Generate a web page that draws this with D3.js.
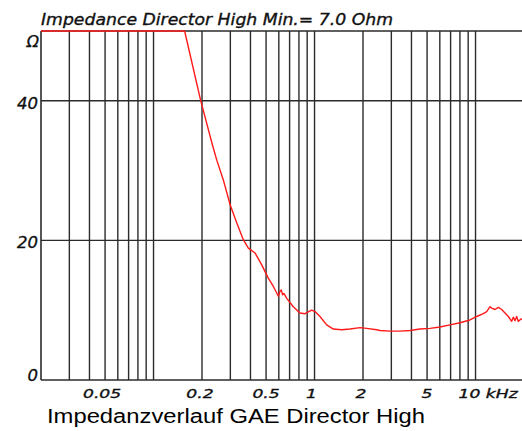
<!DOCTYPE html>
<html>
<head>
<meta charset="utf-8">
<script src="https://cdn.jsdelivr.net/npm/d3@7"></script>
<style>
  html, body { margin: 0; padding: 0; background: #fff; }
  svg { display: block; }
</style>
</head>
<body>
<svg id="chart" width="522" height="431"></svg>
<script>
// Impedance magnitude (Ohm) against frequency (Hz)
const freqHz = [
  20, 156, 196, 232, 247, 271, 299, 329, 361, 388, 427, 470, 516, 555, 596, 610, 622, 634, 646,
  672, 738, 812, 873, 960, 1007, 1081, 1190, 1308, 1475, 1661, 1916, 2108, 2432, 2551, 2944,
  3394, 3918, 4520, 5216, 6017, 6942, 8009, 9238, 10170, 11180, 11730, 12300, 12600, 13210,
  13850, 14540, 15240, 15980, 16770, 17160, 17580, 18020, 18430, 19080, 20000
];
const impedanceOhm = [
  50, 50, 40.1, 33.7, 31.5, 28.7, 25.1, 22.5, 20.1, 18.9, 18.2, 16.5, 14.6, 13.4, 12.0, 12.7, 12.9, 12.2, 12.4,
  11.7, 10.5, 9.6, 9.5, 10.0, 9.8, 9.1, 7.9, 7.3, 7.2, 7.3, 7.5, 7.4, 7.2, 7.1, 7.0,
  7.0, 7.1, 7.3, 7.4, 7.6, 7.9, 8.2, 8.6, 9.1, 9.5, 9.8, 10.5, 10.3, 10.1,
  10.4, 10.1, 9.6, 9.1, 8.4, 9.0, 8.5, 9.1, 8.4, 8.7, 8.8
];

// Grid: 1-2-...-9 per decade, plus horizontal lines
const gridFreqHz = [30, 40, 50, 60, 70, 80, 90, 100, 200, 300, 400, 500, 600, 700, 800, 900,
                    1000, 2000, 3000, 4000, 5000, 6000, 7000, 8000, 9000, 10000];
const gridOhm = [20, 40, 50];

// Axis labels
const xTickHz = [50, 200, 500, 1000, 2000, 5000, 10000];
const xTickLabels = ["0.05", "0.2", "0.5", "1", "2", "5", "10 kHz"];
const yTickOhm = [0, 20, 40];
const yTickLabels = ["0", "20", "40"];

const titleText = "Impedance Director High Min.= 7.0 Ohm";
const captionText = "Impedanzverlauf GAE Director High";

const svg = d3.select("#chart");

const x = d3.scaleLog().domain([20, 20000]).range([41, 524]);
const y = d3.scaleLinear().domain([0, 50]).range([380, 31]);

const plotRight = 522;
const gridColor = "#2b2b2b";
const tickFont = "'DejaVu Sans', Verdana, sans-serif";
const inkColor = "#111";

svg.append("defs").append("clipPath").attr("id", "plot-clip")
  .append("rect")
  .attr("x", x.range()[0]).attr("y", y(50) - 1)
  .attr("width", x.range()[1] - x.range()[0])
  .attr("height", y(0) - y(50) + 1);

// vertical grid lines
svg.append("g").selectAll("line").data(gridFreqHz).join("line")
  .attr("x1", d => x(d)).attr("x2", d => x(d))
  .attr("y1", y(50)).attr("y2", y(0))
  .attr("stroke", gridColor).attr("stroke-width", 1.4);

// horizontal grid lines
svg.append("g").selectAll("line").data(gridOhm).join("line")
  .attr("x1", x(20)).attr("x2", plotRight)
  .attr("y1", d => y(d)).attr("y2", d => y(d))
  .attr("stroke", gridColor).attr("stroke-width", 1.4);

// axes frame (left and bottom)
svg.append("line")
  .attr("x1", x(20)).attr("x2", x(20)).attr("y1", y(50)).attr("y2", y(0))
  .attr("stroke", gridColor).attr("stroke-width", 1.6);
svg.append("line")
  .attr("x1", x(20)).attr("x2", plotRight).attr("y1", y(0)).attr("y2", y(0))
  .attr("stroke", gridColor).attr("stroke-width", 1.6);

// impedance curve
const line = d3.line()
  .x((d, i) => x(freqHz[i]))
  .y(d => y(d));
svg.append("path")
  .attr("clip-path", "url(#plot-clip)")
  .attr("d", line(impedanceOhm))
  .attr("fill", "none")
  .attr("stroke", "#ff1a1a")
  .attr("stroke-width", 1.4)
  .attr("stroke-linejoin", "round");

// shared look for the plotter-style italic labels
function plotterText(sel, size) {
  return sel
    .attr("font-family", tickFont)
    .attr("font-style", "italic")
    .attr("font-size", size)
    .attr("fill", inkColor)
    .attr("stroke", inkColor)
    .attr("stroke-width", 0.35);
}

// x tick labels (wide italic, stretched horizontally)
const xNudge = [-3, -2, 0, -3, -2, 0, -17];
svg.append("g").selectAll("text").data(xTickHz).join("text")
  .attr("transform", (d, i) => `translate(${x(d) + xNudge[i]},398) scale(1.32,1)`)
  .attr("text-anchor", (d, i) => i === xTickHz.length - 1 ? "start" : "middle")
  .call(plotterText, 13)
  .text((d, i) => xTickLabels[i]);

// y tick labels
svg.append("g").selectAll("text").data(yTickOhm).join("text")
  .attr("x", 38)
  .attr("y", d => d === 0 ? y(d) + 1 : y(d) + 8)
  .attr("text-anchor", "end")
  .call(plotterText, 16.5)
  .text((d, i) => yTickLabels[i]);

// unit
svg.append("text")
  .attr("x", 39).attr("y", 47)
  .attr("text-anchor", "end")
  .call(plotterText, 16)
  .text("Ω");

// title
svg.append("text")
  .attr("x", 41).attr("y", 25)
  .call(plotterText, 16)
  .attr("textLength", 352)
  .attr("lengthAdjust", "spacingAndGlyphs")
  .text(titleText);

// caption
svg.append("text")
  .attr("x", 47).attr("y", 423)
  .attr("font-family", "'Liberation Sans', Arial, sans-serif")
  .attr("font-size", 20)
  .attr("textLength", 378)
  .attr("lengthAdjust", "spacingAndGlyphs")
  .attr("fill", "#000")
  .text(captionText);
</script>
</body>
</html>
